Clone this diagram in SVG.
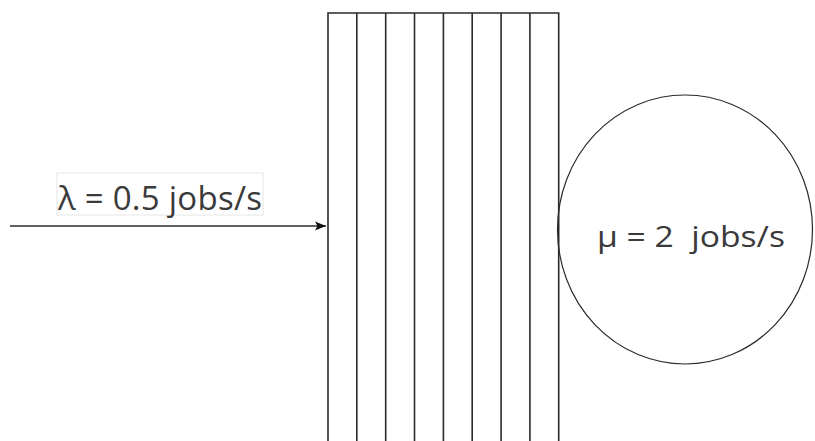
<svg xmlns="http://www.w3.org/2000/svg" width="815" height="441" viewBox="0 0 815 441">
<defs>
<style>
.ln{stroke:#2b2b2b;stroke-width:1.6;fill:none}
.tx{font-family:"Open Sans","Noto Sans",sans-serif;fill:#3a3a3a}
</style>
<marker id="ah" markerWidth="12" markerHeight="10" refX="11" refY="5" orient="auto" markerUnits="userSpaceOnUse">
<path d="M0,0.5 L11,5 L0,9.5 L2.5,5 Z" fill="#111"/>
</marker>
</defs>
<rect width="815" height="441" fill="#fff"/>
<g id="queue">
<path class="ln" d="M328,441 V13 H558.7 V441 M356.8,13 V441 M385.7,13 V441 M414.5,13 V441 M443.4,13 V441 M472.2,13 V441 M501.1,13 V441 M529.9,13 V441"/>
</g>
<g id="server">
<ellipse cx="685" cy="229.5" rx="127.5" ry="134.5" fill="none" stroke="#2b2b2b" stroke-width="1.2"/>
<text class="tx" x="597" y="247" font-size="30" textLength="188" lengthAdjust="spacingAndGlyphs" xml:space="preserve">μ = 2  jobs/s</text>
</g>
<g id="arrival-label">
<rect x="57" y="173" width="206" height="42" fill="#fff" stroke="#e6e6e6" stroke-width="1"/>
<text class="tx" x="58" y="210" font-size="33" textLength="204" lengthAdjust="spacing">λ = 0.5 jobs/s</text>
</g>
<g id="connectors">
<line class="ln" x1="10" y1="226" x2="326" y2="226" marker-end="url(#ah)"/>
</g>
</svg>
